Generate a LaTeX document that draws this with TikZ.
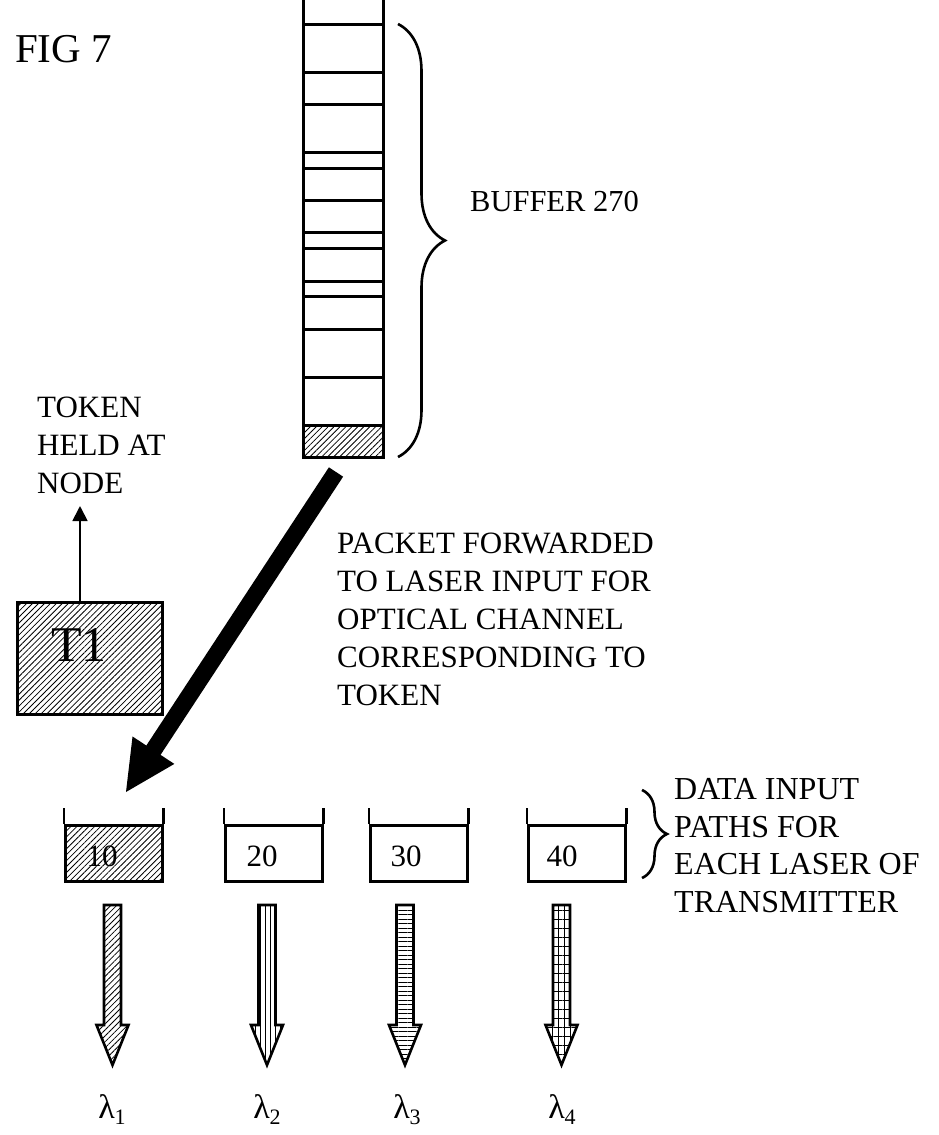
\documentclass[tikz,border=0pt]{standalone}
\usepackage{fontspec}
\setmainfont{Liberation Serif}
\usetikzlibrary{arrows.meta,patterns.meta,decorations.pathreplacing,calc}
\newcommand{\blockarr}[1]{(#1-8.5,905) -- (#1+8.5,905) -- (#1+8.5,1025) -- (#1+16,1025) -- (#1,1065) -- (#1-16,1025) -- (#1-8.5,1025) -- cycle}
\begin{document}
\begin{tikzpicture}[x=1pt,y=-1pt,
  lbl/.style={anchor=base west, align=left, inner sep=0pt},
  heavy/.style={line width=3pt},
  medium/.style={line width=2.6pt},
  hatch/.style={pattern={Lines[angle=45,distance=4.2pt,line width=0.8pt]}},
  vlines/.style={pattern={Lines[angle=90,distance=5pt,line width=0.9pt]}},
  hlines/.style={pattern={Lines[angle=0,distance=4.5pt,line width=0.9pt]}},
  gridh/.style={pattern={Lines[angle=0,distance=9pt,line width=0.9pt]}},
  gridv/.style={pattern={Lines[angle=90,distance=6pt,line width=0.9pt]}},
  bufbox/.style={draw, medium, minimum width=97pt, minimum height=56pt, anchor=north west, inner sep=0pt},
  num/.style={anchor=base, inner sep=0pt, font=\fontsize{31}{31}\selectfont},
  lam/.style={anchor=base, inner sep=0pt, font=\fontsize{34}{34}\selectfont},
  curly/.style={decorate, line width=2.6pt}
]
\useasboundingbox (0,0) rectangle (938,1135);

% title
\node[lbl, font=\fontsize{41}{41}\selectfont] (fig) at (15,62) {FIG 7};

% big buffer
\fill[hatch] (303,425) rectangle (383,457);
\draw[heavy] (303,0) -- (303,457) -- (383,457) -- (383,0);
\foreach \yy in {24,72,104,152,168,200,232,248,281,296,329,377,425}
  \draw[heavy] (303,\yy) -- (383,\yy);
\coordinate (buftop) at (398,24);
\coordinate (bufbot) at (398,457);
\draw[curly, decoration={brace, amplitude=47pt}] (buftop) -- (bufbot);
\node[lbl, font=\fontsize{30.5}{30.5}\selectfont] (buflbl) at (470,211) {BUFFER 270};

% token
\node[draw, heavy, hatch, minimum width=145pt, minimum height=112pt, anchor=north west, inner sep=0pt] (t1) at (16,601) {};
\node[inner sep=0pt, font=\fontsize{50}{50}\selectfont] (t1txt) at (79,645) {T1};
\node[lbl, font=\fontsize{31}{38}\selectfont] (toklbl) at (37,493) {TOKEN\\HELD AT\\NODE};
\coordinate (toktip) at (80,506);
\draw[line width=1.8pt, -{Triangle[length=15pt,width=15pt]}] (t1.north -| toktip) -- (toktip);

% big arrow
\coordinate (S) at (336,472);
\coordinate (T) at (126,792);
\coordinate (B) at ($(T)!50pt!(S)$);
\fill ($(S)!8.5pt!90:(T)$) -- ($(B)!8.5pt!-90:(S)$) -- ($(B)!25pt!-90:(S)$) -- (T)
      -- ($(B)!25pt!90:(S)$) -- ($(B)!8.5pt!90:(S)$) -- ($(S)!8.5pt!-90:(T)$) -- cycle;
\node[lbl, font=\fontsize{31}{37.8}\selectfont] (pktlbl) at (337,705)
  {PACKET FORWARDED\\TO LASER INPUT FOR\\OPTICAL CHANNEL\\CORRESPONDING TO\\TOKEN};

% small buffers
\node[bufbox, hatch] (b10) at (64,824) {};
\node[bufbox] (b20) at (224,824) {};
\node[bufbox] (b30) at (369,824) {};
\node[bufbox] (b40) at (527,824) {};
\foreach \b in {b10,b20,b30,b40}
  \draw[medium] (\b.north west) -- ++(0,-16) (\b.north east) -- ++(0,-16);
\node[num] (n10) at (102,866) {10};
\node[num] (n20) at (262,866) {20};
\node[num] (n30) at (406,866) {30};
\node[num] (n40) at (562,866) {40};
\draw[curly, decoration={brace, amplitude=25pt}] (642,790) -- (642,878);
\node[lbl, font=\fontsize{32}{37.5}\selectfont] (datalbl) at (674,912)
  {DATA INPUT\\PATHS FOR\\EACH LASER OF\\TRANSMITTER};

% output arrows
\path[hatch] \blockarr{112.5};
\draw[medium, line join=miter] \blockarr{112.5};
\path[vlines] \blockarr{267};
\draw[medium, line join=miter] \blockarr{267};
\path[hlines] \blockarr{405};
\draw[medium, line join=miter] \blockarr{405};
\path[gridh] \blockarr{561.5};
\path[gridv] \blockarr{561.5};
\draw[medium, line join=miter] \blockarr{561.5};

\node[lam] (l1) at (112,1118) {λ\raisebox{-0.2em}{\fontsize{22}{22}\selectfont 1}};
\node[lam] (l2) at (267,1118) {λ\raisebox{-0.2em}{\fontsize{22}{22}\selectfont 2}};
\node[lam] (l3) at (407,1118) {λ\raisebox{-0.2em}{\fontsize{22}{22}\selectfont 3}};
\node[lam] (l4) at (562,1118) {λ\raisebox{-0.2em}{\fontsize{22}{22}\selectfont 4}};
\end{tikzpicture}
\end{document}
